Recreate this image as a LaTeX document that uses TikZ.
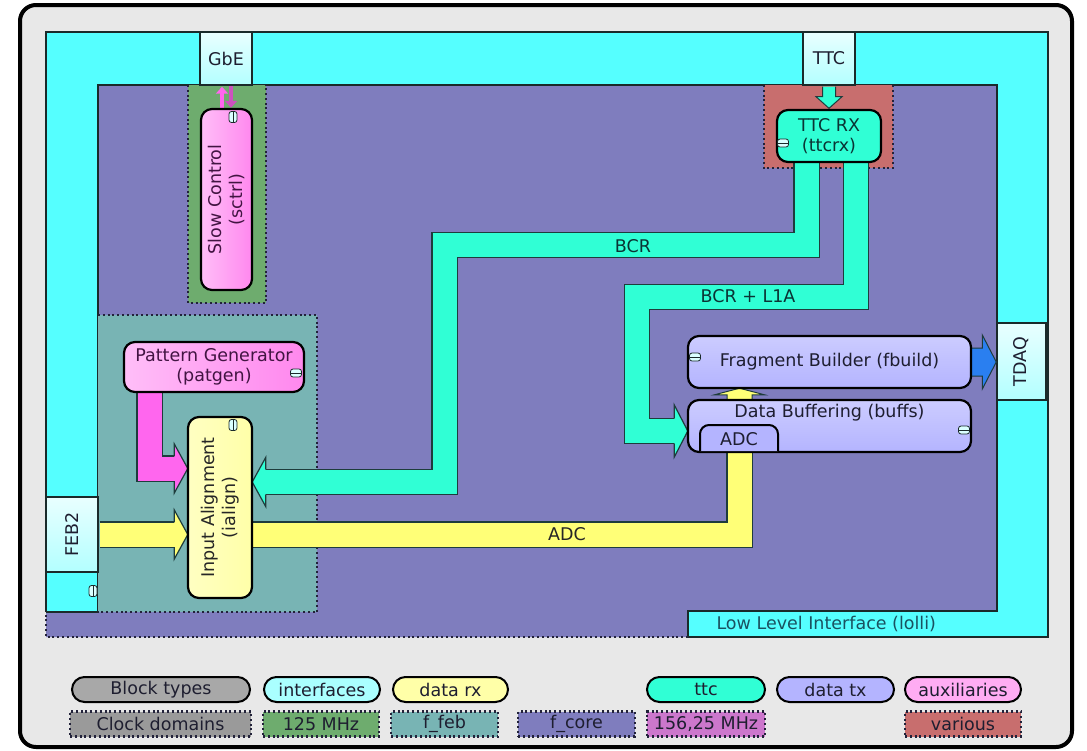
\documentclass[tikz,border=0pt]{standalone}
\usepackage{fontspec}
\setmainfont{DejaVu Sans}
\usetikzlibrary{calc,arrows.meta}

\definecolor{framebg}{HTML}{E8E8E8}
\definecolor{ifcyan}{HTML}{55FFFF}
\definecolor{iflight}{HTML}{DAFFFF}
\definecolor{core}{HTML}{7F7DBE}
\definecolor{feb}{HTML}{78B4B4}
\definecolor{green125}{HTML}{6EAC6E}
\definecolor{various}{HTML}{C86E6E}
\definecolor{ttcfill}{HTML}{30FFD5}
\definecolor{pinkL}{HTML}{FFBEF8}
\definecolor{pinkR}{HTML}{FF88EE}
\definecolor{pinkband}{HTML}{FF66EE}
\definecolor{yelblk}{HTML}{FFFFA8}
\definecolor{yelband}{HTML}{FFFF77}
\definecolor{lav}{HTML}{B4B4FF}
\definecolor{lavL}{HTML}{CCCCFF}
\definecolor{bluearr}{HTML}{2A7FF0}
\definecolor{edge}{HTML}{1A2A2A}
\definecolor{bedge}{HTML}{1E3C3C}
\definecolor{txt}{HTML}{1E1E30}
\definecolor{ttctxt}{HTML}{0A3434}
\definecolor{pinktxt}{HTML}{421442}
\definecolor{lollitxt}{HTML}{1A5260}
\definecolor{legendgray}{HTML}{A8A8A8}
\definecolor{domgray}{HTML}{9A9A9A}
\definecolor{mhzpink}{HTML}{CC77CC}
\definecolor{ifleg}{HTML}{AAFFFF}
\definecolor{dotcol}{HTML}{22223A}

\newcommand{\bandheadE}[3]{%
  \fill[#3] ($(#1)+(-13.5,-#2)$) -- (#1) -- ($(#1)+(-13.5,#2)$) -- cycle;
  \draw[bedge, line width=1.2pt] ($(#1)+(-13.5,-12.6)$) -- ($(#1)+(-13.5,-#2)$) -- (#1) -- ($(#1)+(-13.5,#2)$) -- ($(#1)+(-13.5,12.6)$);}
\newcommand{\bandheadW}[3]{%
  \fill[#3] ($(#1)+(13.5,-#2)$) -- (#1) -- ($(#1)+(13.5,#2)$) -- cycle;
  \draw[bedge, line width=1.2pt] ($(#1)+(13.5,-12.6)$) -- ($(#1)+(13.5,-#2)$) -- (#1) -- ($(#1)+(13.5,#2)$) -- ($(#1)+(13.5,12.6)$);}

\begin{document}
\begin{tikzpicture}[x=1pt,y=-1pt,
  every node/.style={font=\fontsize{17.5}{20.5}\selectfont, text=txt},
  block/.style={draw=black, line width=2.2pt, rounded corners=11pt, inner sep=0pt, align=center},
  pinkblock/.style={block, left color=pinkL, right color=pinkR},
  lavblock/.style={block, top color=lavL, bottom color=lav, text=txt},
  ifbox/.style={draw=edge, line width=1.4pt, top color=iflight!60!white, bottom color=ifcyan!45!white, inner sep=0pt},
  domline/.style={draw=dotcol, line width=2.2pt, dash pattern=on 2pt off 2.8pt},
  band/.style={draw=bedge, line width=1.2pt, double=#1, double distance=24pt},
  plugh/.style={draw=edge, fill=iflight, line width=0.8pt, rounded corners=2.5pt, minimum width=11pt, minimum height=8pt, inner sep=0pt,
    path picture={\draw[edge, line width=0.7pt] (path picture bounding box.west) -- (path picture bounding box.east);}},
  plugv/.style={draw=edge, fill=iflight, line width=0.8pt, rounded corners=2.5pt, minimum width=8pt, minimum height=11pt, inner sep=0pt,
    path picture={\draw[edge, line width=0.7pt] (path picture bounding box.north) -- (path picture bounding box.south);}},
  pill/.style={draw=black, line width=2pt, rounded corners=12.5pt, minimum height=25pt, inner sep=0pt},
  dombox/.style={domline, minimum height=25pt, inner sep=0pt}
]
\useasboundingbox (0,0) rectangle (1087,750);
\fill[white] (0,0) rectangle (1087,750);

% outer frame
\draw[line width=4pt, fill=framebg, rounded corners=16pt] (20,5) rectangle (1072,747);

% interface (lolli) area
\fill[ifcyan] (46,32) rectangle (1048,637);
\draw[edge, line width=1.6pt] (46,612) -- (46,32) -- (1048,32) -- (1048,637) -- (688,637);

% core clock domain
\fill[core] (98,85) -- (997,85) -- (997,611) -- (688,611) -- (688,637) -- (46,637) -- (46,612) -- (98,612) -- cycle;
\draw[edge, line width=1.6pt] (46,612) -- (98,612) -- (98,85) -- (997,85) -- (997,611) -- (688,611) -- (688,637);
\draw[domline, line width=1.4pt] (688,637) -- (46,637) -- (46,612);

% other clock domains
\fill[green125] (188,85) rectangle (266,303);
\draw[domline] (188,85) -- (188,303) -- (266,303) -- (266,85);
\fill[various] (764,85) rectangle (893,168);
\draw[domline] (764,85) -- (764,168) -- (893,168) -- (893,85);
\fill[feb] (98,315) rectangle (317,612);
\draw[domline, line width=1.6pt] (98,315) -- (317,315) -- (317,612) -- (98,612);

% interface boxes
\node[ifbox, minimum width=52pt, minimum height=53pt] (gbe) at (226,58.5) {GbE};
\node[ifbox, minimum width=52pt, minimum height=53pt] (ttc) at (829,58.5) {TTC};
\node[ifbox, minimum width=49pt, minimum height=77pt] (tdaq) at (1021.5,361.5) {\rotatebox{90}{TDAQ}};
\node[ifbox, minimum width=52pt, minimum height=75pt] (feb2) at (72,534.5) {\rotatebox{90}{FEB2}};

% block placeholders for coordinates (drawn later)
\path (226.5,199.5) node[minimum width=51pt, minimum height=181pt, inner sep=0pt] (sctrlpos) {};
\path (829,136) node[minimum width=104pt, minimum height=52pt, inner sep=0pt] (ttcrxpos) {};
\path (214,367) node[minimum width=180pt, minimum height=50pt, inner sep=0pt] (patgenpos) {};
\path (220,507.5) node[minimum width=64pt, minimum height=181pt, inner sep=0pt] (ialignpos) {};
\path (829.5,362) node[minimum width=283pt, minimum height=52pt, inner sep=0pt] (fbuildpos) {};
\path (829.5,426) node[minimum width=283pt, minimum height=52pt, inner sep=0pt] (buffspos) {};

% bands
\coordinate (bcrA) at (806.5,245);
\coordinate (bcrB) at (444.5,245);
\coordinate (bcrC) at (444.5,482);
\coordinate (bcrTip) at (ialignpos.east |- bcrC);
\draw[band=ttcfill] (ttcrxpos.south -| bcrA) -- (bcrA) -- (bcrB) -- (bcrC) -- ($(bcrTip)+(12.5,0)$);
\bandheadW{bcrTip}{24.5}{ttcfill}

\coordinate (blA) at (856,297);
\coordinate (blB) at (637,297);
\coordinate (blC) at (637,431);
\coordinate (blTip) at (buffspos.west |- blC);
\draw[band=ttcfill] (ttcrxpos.south -| blA) -- (blA) -- (blB) -- (blC) -- ($(blTip)+(-12.5,0)$);
\bandheadE{blTip}{26}{ttcfill}

\coordinate (adcY) at (0,534.5);
\coordinate (adcIn) at (ialignpos.west |- adcY);
\draw[band=yelband] ($(feb2.east)+(0.8,0)$) -- ($(adcIn)+(-12.5,0)$);
\bandheadE{adcIn}{24.5}{yelband}
\coordinate (adcA) at (739.5,534.5);
\draw[band=yelband] (ialignpos.east |- adcY) -- (adcA) -- (adcA |- buffspos.south);

\coordinate (pgA) at (149.5,468.5);
\coordinate (pgTip) at (ialignpos.west |- pgA);
\draw[band=pinkband] (patgenpos.south -| pgA) -- (pgA) -- ($(pgTip)+(-12.5,0)$);
\bandheadE{pgTip}{24.5}{pinkband}

% small arrows
\coordinate (fbE) at (fbuildpos.east);
\coordinate (tdW) at (tdaq.west |- fbE);
\draw[draw=bedge, fill=bluearr, line width=1pt] ($(fbE)+(-4,-14)$) -- ($(tdW)+(-14,-14)$) -- ($(tdW)+(-14,-27)$) -- (tdW) -- ($(tdW)+(-14,27)$) -- ($(tdW)+(-14,14)$) -- ($(fbE)+(-4,14)$);

\draw[draw=bedge, fill=ttcfill, line width=1pt] ($(ttc.south)+(-6.5,0.8)$) -- ($(ttc.south)+(-6.5,11)$) -- ($(ttc.south)+(-13,11)$) -- ($(ttcrxpos.north)+(0,-1.5)$) -- ($(ttc.south)+(13,11)$) -- ($(ttc.south)+(6.5,11)$) -- ($(ttc.south)+(6.5,0.8)$);

\coordinate (ysB) at (buffspos.north -| adcA);
\coordinate (ysT) at (fbuildpos.south -| adcA);
\draw[draw=bedge, fill=yelband, line width=1pt] ($(ysB)+(-12.5,1)$) -- ($(ysB)+(-12.5,-5)$) -- ($(ysB)+(-25,-5)$) -- (ysT) -- ($(ysB)+(25,-5)$) -- ($(ysB)+(12.5,-5)$) -- ($(ysB)+(12.5,1)$);

\draw[pinkband, line width=4.5pt, -{Triangle[length=7pt,width=12pt]}] ($(sctrlpos.north)+(-4.5,0)$) -- ($(gbe.south)+(-4,1)$);
\draw[pinkband!80!black, line width=4.5pt, -{Triangle[length=7pt,width=12pt]}] ($(gbe.south)+(5,0.5)$) -- ($(sctrlpos.north)+(4.5,-1)$);

% blocks
\node[pinkblock, minimum width=51pt, minimum height=181pt] (sctrl) at (sctrlpos) {};
\node[rotate=90, align=center, text=pinktxt] (sctrlt) at (sctrl.center) {Slow Control\\(sctrl)};
\node[block, fill=ttcfill, text=ttctxt, minimum width=104pt, minimum height=52pt] (ttcrx) at (ttcrxpos) {TTC RX\\(ttcrx)};
\node[pinkblock, text=pinktxt, minimum width=180pt, minimum height=50pt] (patgen) at (patgenpos) {Pattern Generator\\(patgen)};
\node[block, left color=yelblk!70!white, right color=yelblk, minimum width=64pt, minimum height=181pt] (ialign) at (ialignpos) {};
\node[rotate=90, align=center, text=black!85] (ialignt) at (ialign.center) {Input Alignment\\(ialign)};
\node[lavblock, minimum width=283pt, minimum height=52pt] (fbuild) at (fbuildpos) {Fragment Builder (fbuild)};
\node[lavblock, minimum width=283pt, minimum height=52pt] (buffs) at (buffspos) {};
\node (buffst) at (829.5,413) {Data Buffering (buffs)};
\filldraw[fill=lav, draw=black, line width=2pt, rounded corners=9pt] (700,451) -- (700,425) -- (778,425) -- (778,451);
\node (adctab) at (739,439.5) {ADC};

% plug icons
\node[plugv] (p1) at (233,117) {};
\node[plugh] (p2) at (783,143) {};
\node[plugh] (p3) at (296,373) {};
\node[plugv] (p4) at (233,425) {};
\node[plugv] (p5) at (93,591) {};
\node[plugh] (p6) at (695,357) {};
\node[plugh] (p7) at (964,430) {};

% labels
\node[text=ttctxt] (lbcr) at (633,246) {BCR};
\node[text=ttctxt] (lbl) at (748,296) {BCR + L1A};
\node[text=black!85] (ladc) at (567,534) {ADC};
\node[anchor=west, text=lollitxt] (llolli) at (713,624) {Low Level Interface (lolli)};

% legend
\node[pill, fill=legendgray, minimum width=178pt] (lg1) at (161,689.5) {Block types};
\node[pill, fill=ifleg, minimum width=116pt] (lg2) at (322,689.5) {interfaces};
\node[pill, fill=yelblk, minimum width=115pt] (lg3) at (450.5,689.5) {data rx};
\node[pill, fill=ttcfill, minimum width=118pt] (lg4) at (706,689.5) {ttc};
\node[pill, fill=lav, minimum width=117pt] (lg5) at (835.5,689.5) {data tx};
\node[pill, fill=pinkR!70!white, minimum width=116pt] (lg6) at (963,689.5) {auxiliaries};

\node[dombox, fill=domgray, minimum width=181pt] (cd1) at (160.5,724) {Clock domains};
\node[dombox, fill=green125, minimum width=116pt] (cd2) at (321,724) {125 MHz};
\node[dombox, fill=feb, minimum width=107pt] (cd3) at (444.5,724) {f\_feb};
\node[dombox, fill=core, minimum width=117pt] (cd4) at (576.5,724) {f\_core};
\node[dombox, fill=mhzpink, minimum width=118pt] (cd5) at (706,724) {156,25 MHz};
\node[dombox, fill=various, minimum width=116pt] (cd6) at (963,724) {various};
\end{tikzpicture}
\end{document}
